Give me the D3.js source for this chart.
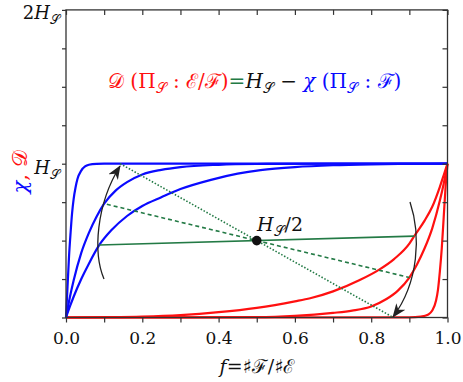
<!DOCTYPE html>
<html><head><meta charset="utf-8">
<script src="https://cdn.jsdelivr.net/npm/d3@7"></script>
<style>
body{margin:0;background:#fff;}
</style></head>
<body><svg id="c" width="463" height="382"></svg>
<script>
// ---- data ----
const xTicks = [0,0.1,0.2,0.3,0.4,0.5,0.6,0.7,0.8,0.9,1.0];
const xTickLabels = ["0.0","","0.2","","0.4","","0.6","","0.8","","1.0"];
const yTicks = [0,0.25,0.5,0.75,1,1.25,1.5,1.75,2];

const blueSteepF = [0,0.004,0.008,0.012,0.016,0.02,0.025,0.03,0.04,0.05,0.06,0.08,0.1,1];
const blueSteepV = [0,0.2,0.4,0.55,0.68,0.77,0.845,0.9,0.955,0.982,0.993,0.999,1,1];
const blueMidF = [0,0.01,0.02,0.04,0.06,0.08,0.1,0.13,0.16,0.2,0.25,0.3,0.4,0.5,0.7,1];
const blueMidV = [0,0.13,0.24,0.42,0.55,0.655,0.74,0.825,0.88,0.93,0.96,0.978,0.993,0.998,1,1];
const blueShallowF = [0,0.01,0.02,0.04,0.06,0.087,0.12,0.16,0.2,0.25,0.3,0.38,0.45,0.51,0.6,0.7,0.8,0.9,1];
const blueShallowV = [0,0.07,0.135,0.25,0.35,0.47,0.57,0.66,0.725,0.782,0.835,0.895,0.935,0.958,0.978,0.99,0.996,0.999,1];

const redShallowF = [0,0.1,0.2,0.3,0.4,0.5,0.6,0.64,0.7,0.77,0.82,0.86,0.9,0.913,0.94,0.96,0.98,0.99,1];
const redShallowV = [0,0.002,0.006,0.016,0.035,0.063,0.105,0.125,0.17,0.244,0.31,0.38,0.48,0.53,0.63,0.72,0.85,0.925,1];
const redMidF = [0,0.5,0.6,0.7,0.75,0.8,0.84,0.87,0.9,0.92,0.94,0.96,0.98,0.99,1];
const redMidV = [0,0.002,0.01,0.03,0.045,0.072,0.12,0.175,0.26,0.345,0.45,0.58,0.76,0.87,1];
const redSteepF = [0,0.9,0.93,0.95,0.96,0.97,0.975,0.98,0.985,0.99,0.995,1];
const redSteepV = [0,0.001,0.006,0.02,0.045,0.11,0.18,0.3,0.45,0.65,0.85,1];

const greenSolid = [[0.087,0.471],[0.913,0.529]];
const greenDashed = [[0.107,0.736],[0.9,0.26]];
const greenDotted = [[0.142,1],[0.858,0]];
const midPoint = [0.5,0.5];

// ---- drawing ----
const FONT = "'DejaVu Serif', serif";
const svg = d3.select("#c").attr("font-family",FONT);
const x = d3.scaleLinear([0,1],[66,447.5]);
const y = d3.scaleLinear([0,2],[317.5,9.9]);
const BLUE="#0a0aff", RED="#ff1010", GREEN="#237a45";

const zip=(a,b)=>a.map((d,i)=>[d,b[i]]);
const line = d3.line().x(d=>x(d[0])).y(d=>y(d[1])).curve(d3.curveMonotoneX);
const straight = d3.line().x(d=>x(d[0])).y(d=>y(d[1]));

const curves = svg.append("g").attr("fill","none").attr("stroke-width",2.2);
[[redShallowF,redShallowV],[redMidF,redMidV],[redSteepF,redSteepV]].forEach(([f,v])=>
  curves.append("path").attr("d",line(zip(f,v))).attr("stroke",RED));
[[blueShallowF,blueShallowV],[blueMidF,blueMidV],[blueSteepF,blueSteepV]].forEach(([f,v])=>
  curves.append("path").attr("d",line(zip(f,v))).attr("stroke",BLUE));

const g2 = svg.append("g").attr("fill","none").attr("stroke",GREEN);
g2.append("path").attr("d",straight(greenSolid)).attr("stroke-width",1.6);
g2.append("path").attr("d",straight(greenDashed)).attr("stroke-width",1.6).attr("stroke-dasharray","4,3");
g2.append("path").attr("d",straight(greenDotted)).attr("stroke-width",1.6).attr("stroke-dasharray","1.5,1.8");

svg.append("circle").attr("cx",x(midPoint[0])).attr("cy",y(midPoint[1])).attr("r",4.8).attr("fill","#111");

// arrows
const defs = svg.append("defs");
defs.append("marker").attr("id","ah").attr("viewBox","0 0 14 11").attr("refX",13).attr("refY",5.5)
  .attr("markerWidth",14).attr("markerHeight",11).attr("markerUnits","userSpaceOnUse").attr("orient","auto")
  .append("path").attr("d","M0,0 L14,5.5 L0,11 L4,5.5 Z").attr("fill","#222");
const ap = d3.path();
ap.moveTo(104,279); ap.bezierCurveTo(93,253,96,205,120,166);
svg.append("path").attr("d",ap.toString()).attr("fill","none").attr("stroke","#222").attr("stroke-width",1.3).attr("marker-end","url(#ah)");
const bp = d3.path();
bp.moveTo(410,202); bp.bezierCurveTo(421,235,419,282,393,317);
svg.append("path").attr("d",bp.toString()).attr("fill","none").attr("stroke","#222").attr("stroke-width",1.3).attr("marker-end","url(#ah)");

// frame & axes
svg.append("rect").attr("x",x(0)).attr("y",y(2)).attr("width",x(1)-x(0)).attr("height",y(0)-y(2))
  .attr("fill","none").attr("stroke","#333").attr("stroke-width",1.3);
const axB = svg.append("g").attr("transform",`translate(0,${y(0)})`)
  .call(d3.axisBottom(x).tickValues(xTicks).tickSize(5).tickPadding(4).tickFormat((d,i)=>xTickLabels[i]));
const axT = svg.append("g").attr("transform",`translate(0,${y(2)})`)
  .call(d3.axisTop(x).tickValues(xTicks).tickSize(-5).tickFormat(""));
const axL = svg.append("g").attr("transform",`translate(${x(0)},0)`)
  .call(d3.axisLeft(y).tickValues(yTicks).tickSize(4).tickFormat(""));
const axR = svg.append("g").attr("transform",`translate(${x(1)},0)`)
  .call(d3.axisRight(y).tickValues(yTicks).tickSize(-5).tickFormat(""));
[axB,axT,axL,axR].forEach(a=>{a.attr("font-family",FONT);a.select(".domain").remove();a.selectAll("line").attr("stroke","#333").attr("stroke-width",1.2);});
axB.selectAll("text").attr("font-size",17).attr("fill","#111").attr("dy","1.05em");

// y tick labels
function hsLabel(px, py, pre){
  const tx = svg.append("text").attr("x",px).attr("y",py).attr("font-size",18).attr("fill","#111").attr("text-anchor","end");
  if(pre) tx.append("tspan").text(pre);
  tx.append("tspan").attr("font-style","italic").text("H");
  tx.append("tspan").attr("font-size",13).attr("dy",5).text("𝒮");
}
hsLabel(60, y(2)+9, "2");
hsLabel(60, y(1)+10, "");

// y axis label
const yl = svg.append("text").attr("transform",`translate(27,${172}) rotate(-90)`).attr("text-anchor","middle").attr("font-size",21);
yl.append("tspan").attr("fill",BLUE).attr("font-style","italic").text("χ");
yl.append("tspan").attr("fill",RED).text(", 𝒟");

// x axis label
const xl = svg.append("text").attr("x",257).attr("y",373).attr("text-anchor","middle").attr("font-size",19).attr("fill","#111");
xl.append("tspan").attr("font-style","italic").text("f");
xl.append("tspan").text("=♯ℱ/♯ℰ");

// H_S/2 label
const hl = svg.append("text").attr("x",257).attr("y",231).attr("font-size",19).attr("fill","#111");
hl.append("tspan").attr("font-style","italic").text("H");
hl.append("tspan").attr("font-size",14).attr("dy",5).text("𝒮");
hl.append("tspan").attr("dy",-5).text("/2");

// formula
const fm = svg.append("text").attr("x",108).attr("y",88).attr("font-size",20);
const add=(t,c,opt={})=>{const s=fm.append("tspan").attr("fill",c).text(t);
  if(opt.sub){s.attr("font-size",14).attr("dy",opt.dy);} else if(opt.dy) s.attr("dy",opt.dy);
  if(opt.it) s.attr("font-style","italic"); return s;};
add("𝒟 (Π",RED); add("𝒮",RED,{sub:true,dy:5}); add(" : ℰ/ℱ)",RED,{dy:-5});
add("=",GREEN);
add("H","#111",{it:true}); add("𝒮","#111",{sub:true,dy:5}); add(" − ","#111",{dy:-5});
add("χ",BLUE,{it:true}); add(" (Π",BLUE); add("𝒮",BLUE,{sub:true,dy:5}); add(" : ℱ)",BLUE,{dy:-5});
</script></body></html>
